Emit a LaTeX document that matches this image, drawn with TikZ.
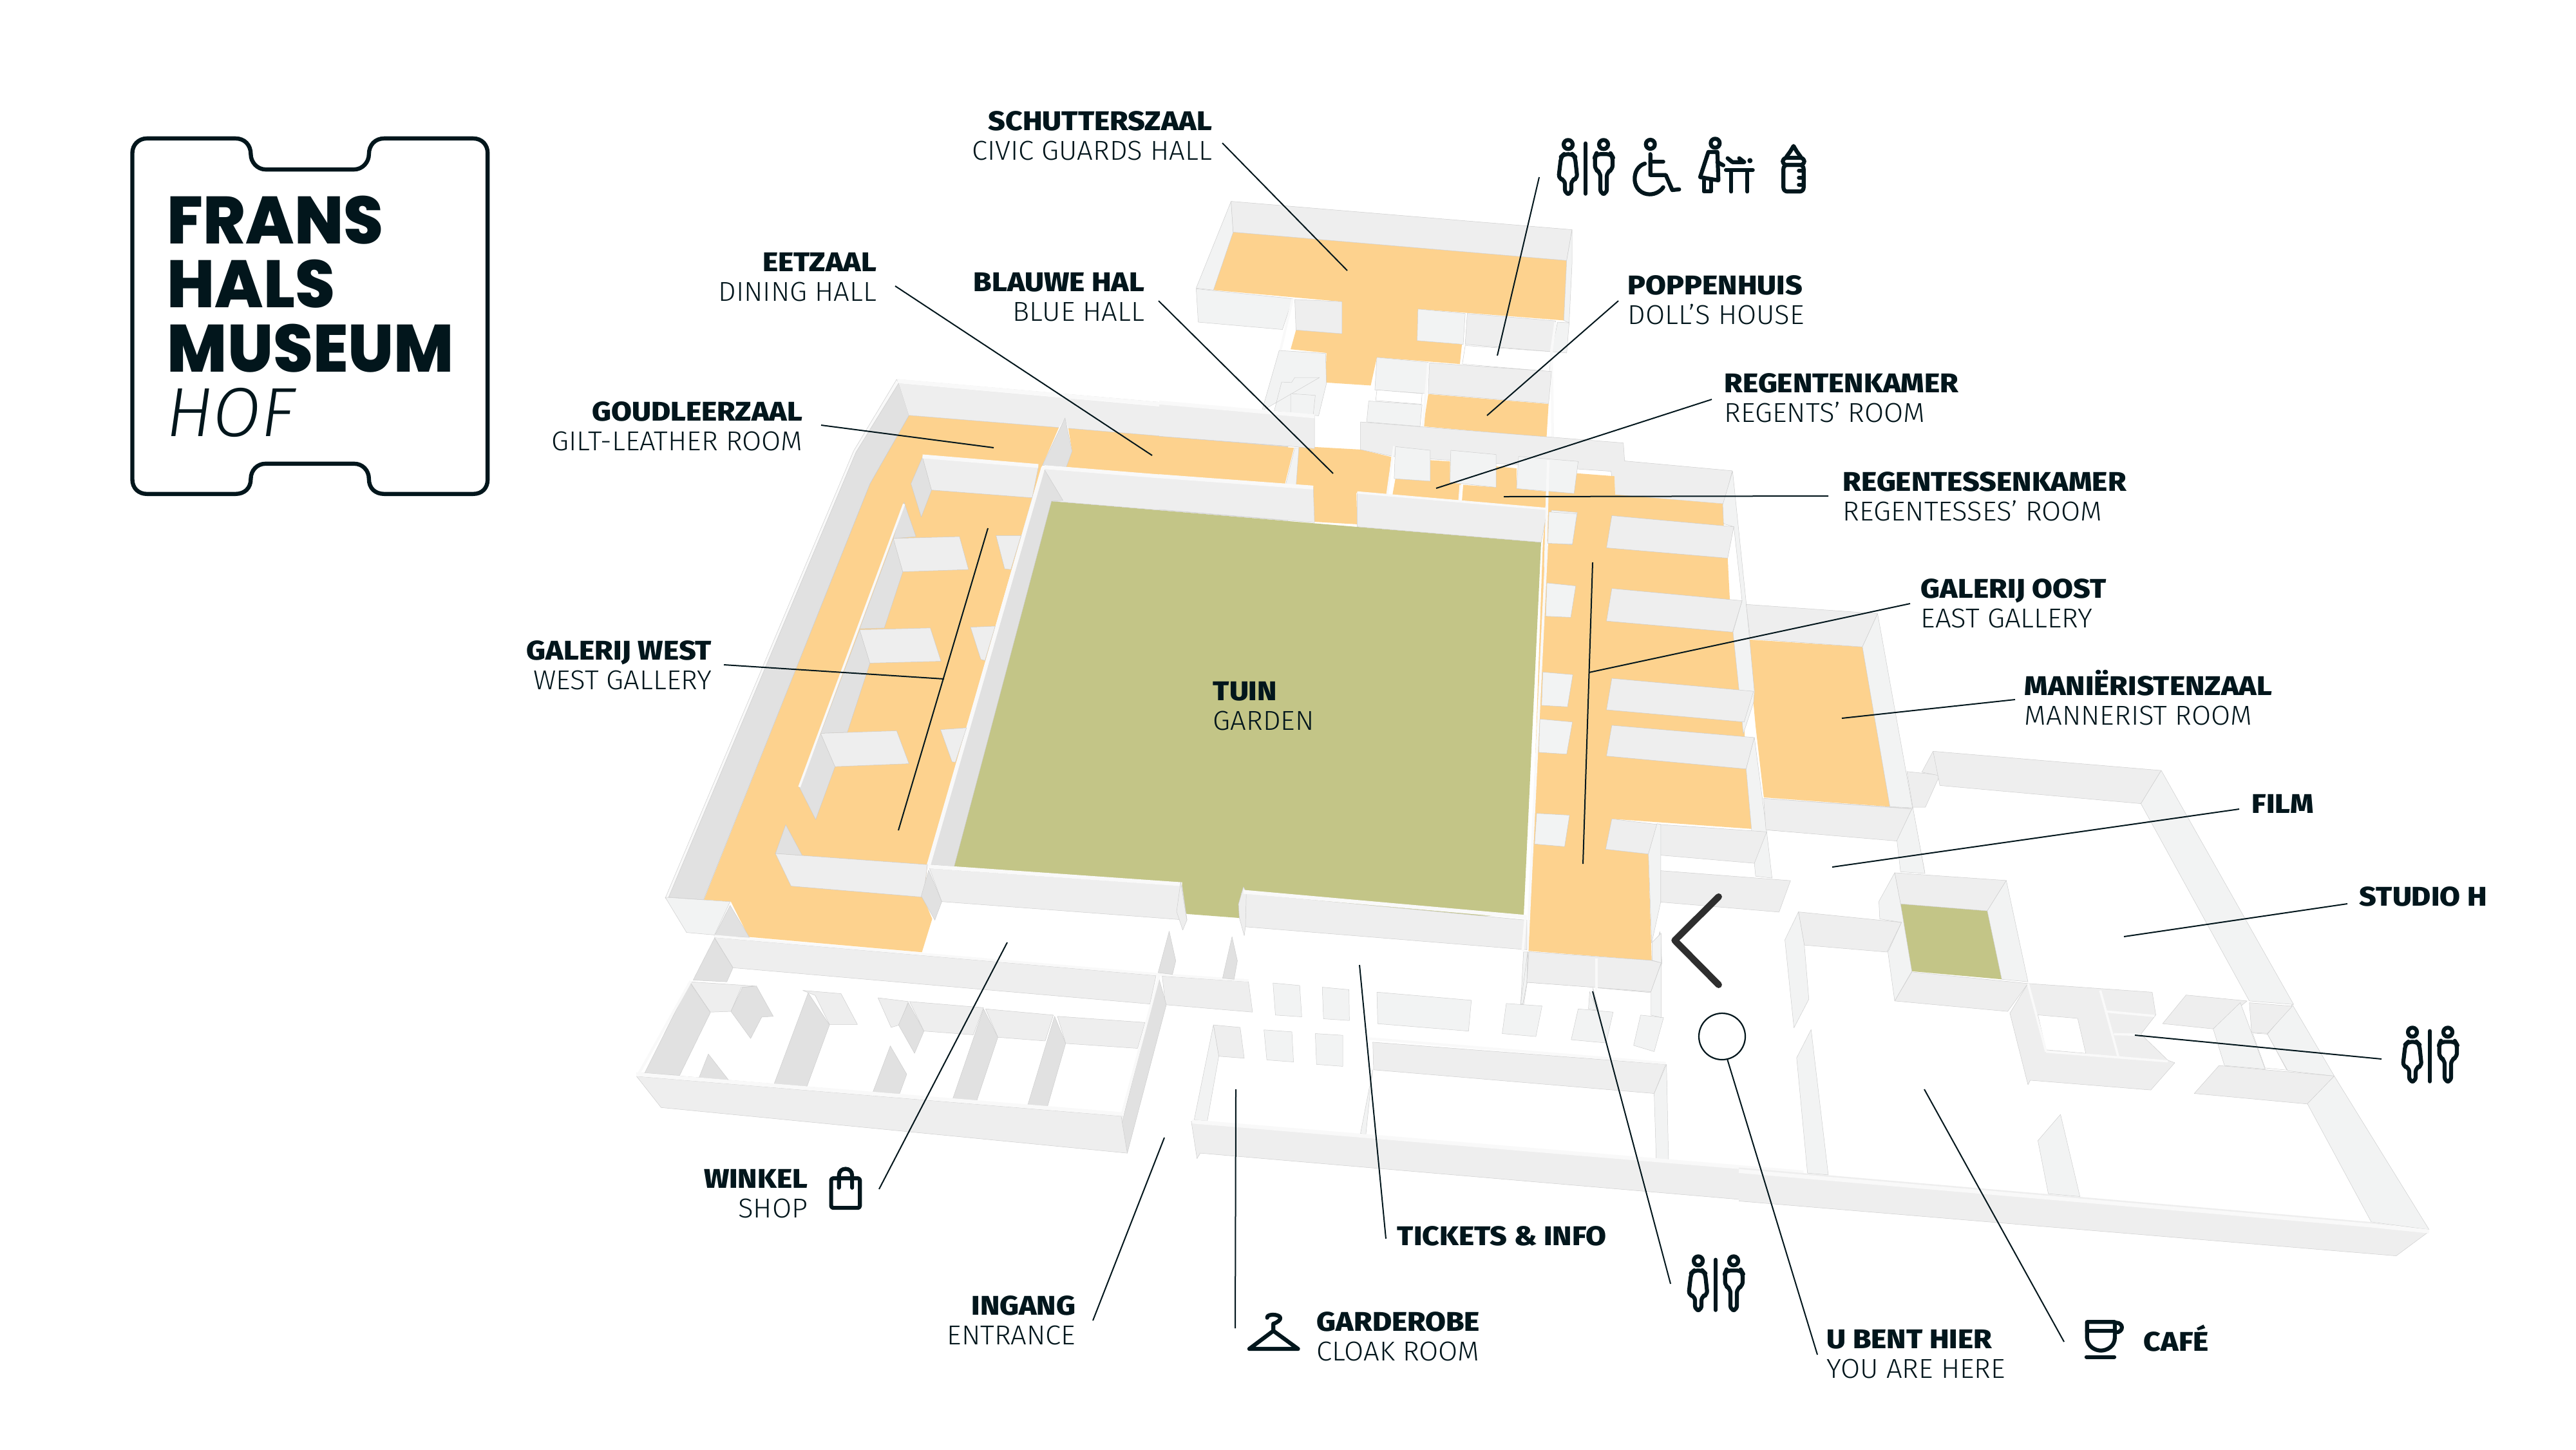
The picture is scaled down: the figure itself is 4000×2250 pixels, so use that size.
\documentclass[tikz,border=0pt]{standalone}
\usepackage{fontspec}
\setmainfont{Fira Sans}
\newfontfamily\lightf{Fira Sans Light}[FakeStretch=1.03]
\newfontfamily\hoff{Fira Sans Light}
\newfontfamily\boldf{Fira Sans ExtraBold}[FakeStretch=1.10]
\newfontfamily\logof{Poppins ExtraBold}[FakeStretch=0.96]
\definecolor{ink}{HTML}{02161C}
\definecolor{orangef}{HTML}{FDD28E}
\definecolor{greenf}{HTML}{C3C587}
\definecolor{wallL}{HTML}{EEEEEE}
\definecolor{wallD}{HTML}{E1E1E1}
\definecolor{wallP}{HTML}{F2F3F3}
\definecolor{wallT}{HTML}{F9F9F9}
\definecolor{edgeg}{HTML}{CCCCCC}
\tikzset{
 x=0.25pt,y=-0.25pt,
 zA/.style={shift={(1000,550)},xscale=.6378,yscale=.5741},
 zB/.style={shift={(1800,280)},xscale=.6378,yscale=.3827},
 zC/.style={shift={(2300,700)},xscale=.6378,yscale=.5741},
 zD/.style={shift={(950,1350)},xscale=.6378,yscale=.3827},
 zE/.style={shift={(1800,1350)},xscale=.6378,yscale=.3827},
 zF/.style={shift={(2700,1150)},xscale=.7015,yscale=.5421},
 zG/.style={shift={(150,170)},xscale=.4337,yscale=.4082},
 zI/.style={shift={(1250,1780)},xscale=.9569,yscale=.3333},
 zJ/.style={shift={(2550,1700)},xscale=.8292,yscale=.3333},
 fo/.style={fill=orangef},
 fg/.style={fill=greenf},
 wn/.style={fill=wallL},
 wl/.style={fill=wallL,draw=edgeg,line width=.12pt,line join=round},
 wd/.style={fill=wallD,draw=edgeg,line width=.12pt,line join=round},
 wp/.style={fill=wallP,draw=edgeg,line width=.12pt,line join=round},
 wt/.style={fill=wallT,draw=edgeg,line width=.12pt,line join=round},
 ww/.style={fill=white,draw=edgeg,line width=.12pt},
 edgeline/.style={draw=edgeg,line width=.12pt},
 strip/.style={draw=wallT,line width=1.5pt},
 leader/.style={draw=ink,line width=.5pt},
 lb/.style={font=\fontsize{10.5}{12}\boldf,text=ink,inner sep=0pt},
 lt/.style={font=\fontsize{10.6}{12}\lightf,text=ink,inner sep=0pt},
 ico/.style={draw=ink,line width=1.55pt,line cap=round,line join=round,fill=none},
}
\newcommand\PG[2]{\path[#1] plot coordinates {#2} -- cycle;}
\newcommand\lblR[5]{\node[lb,anchor=base east] (#1) at (#2,#3) {#4};\node[lt,anchor=base east] (#1-en) at (#2,#3+46) {#5};}
\newcommand\lblL[5]{\node[lb,anchor=base west] (#1) at (#2,#3) {#4};\node[lt,anchor=base west] (#1-en) at (#2,#3+46) {#5};}
\newcommand\lblS[4]{\node[lb,anchor=base west] (#1) at (#2,#3) {#4};}
\newcommand\leader[5]{\coordinate (#1-a) at (#2,#3);\coordinate (#1-b) at (#4,#5);\draw[leader] (#1-a) -- (#1-b);}
\newcommand\wcicon[2]{\begin{scope}[shift={(#1,#2)},scale=.3333]
 \draw[ico] (165,133) circle (21);\draw[ico] (330,133) circle (21);
 \draw[ico,rounded corners=1.6pt] (145,178) -- (185,178) -- (197,190) -- (208,292) -- (180,298) -- (180,362) -- (150,362) -- (150,298) -- (120,292) -- (132,190) -- cycle;
 \draw[ico] (246,128) -- (246,362);
 \draw[ico,rounded corners=1.6pt] (295,178) -- (365,178) -- (372,190) -- (372,250) -- (345,262) -- (345,362) -- (315,362) -- (315,262) -- (290,250) -- (290,190) -- cycle;
\end{scope}}
\begin{document}
\begin{tikzpicture}
\useasboundingbox (0,0) rectangle (4000,2250);
\fill[white] (0,0) rectangle (4000,2250);
% --------- floors
\PG{fg}{(1632,778)(2393,842)(2366,1421)(1924,1425)(1845,1419)(1481,1345)}
\begin{scope}[zA]
\PG{fo}{(645,165)(1010,198)(970,300)(945,388)(690,1380)(680,1480)(146,1475)(550,350)}
\PG{fo}{(1033,200)(1568,250)(1558,355)(1028,305)(1042,262)}
\end{scope}
\begin{scope}[zD]
\PG{fo}{(225,122)(290,130)(333,273)(755,335)(780,200)(755,100)(700,0)(300,0)}
\end{scope}
\begin{scope}[zB]
\PG{fo}{(180,210)(992,325)(985,568)(630,522)(628,650)(737,665)(732,745)(530,718)(515,832)(405,820)(407,700)(320,685)(333,607)(445,622)(445,492)(132,445)}
\PG{fo}{(655,867)(948,907)(943,1042)(643,998)}
\PG{fo}{(0,1040)(328,1085)(305,1238)(0,1195)}
\PG{fo}{(340,1078)(490,1092)(565,1122)(555,1275)(480,1268)(482,1395)(378,1385)(375,1248)(333,1243)}
\end{scope}
\begin{scope}[zC]
\PG{fo}{(232,62)(325,70)(325,118)(588,145)(590,197)(600,290)(605,397)(613,490)(627,640)(640,733)(645,860)(658,1022)(318,995)(303,1077)(407,1090)(415,1378)(115,1352)(150,250)(165,60)}
\PG{fo}{(650,510)(928,530)(995,962)(688,937)(668,745)(660,650)}
\end{scope}
\begin{scope}[zF]
\PG{fg}{(358,467)(550,487)(582,683)(383,660)}
\end{scope}
% --------- walls: west wing
\begin{scope}[zA]
\PG{wt}{(615,68)(510,262)(52,1470)(60,1478)(145,1475)(550,350)(645,165)(620,78)}
\PG{wd}{(620,78)(645,165)(550,350)(145,1475)(60,1468)(516,265)}
\PG{wn}{(620,78)(1568,172)(1568,250)(1033,200)(1025,172)(1010,198)(645,165)}
\draw[edgeline] (645,165) -- (1010,198);
\draw[edgeline] (1033,200) -- (1568,250);
\draw[edgeline] (617,68) -- (1568,160);
\draw[strip] (617,72) -- (1568,165);
\PG{wd}{(1025,172)(1042,262)(1028,305)(970,300)}
\PG{wd}{(678,278)(700,367)(675,440)(650,350)}
\PG{wl}{(678,278)(960,305)(945,388)(700,367)}
\PG{wn}{(975,310)(1568,360)(1568,450)(992,397)}
\draw[edgeline] (992,397) -- (1568,450);
\PG{wd}{(975,312)(1020,395)(992,397)(755,1385)(695,1380)(945,390)}
\draw[strip] (972,305) -- (692,1385);
\draw[strip] (975,305) -- (1568,358);
\draw[strip] (678,276) -- (960,302);
% inner wall and fins
\PG{wd}{(633,400)(662,493)(607,498)}
\PG{wd}{(607,498)(630,588)(585,740)(525,742)}
\PG{wd}{(525,745)(550,835)(495,1022)(430,1025)}
\PG{wd}{(430,1025)(465,1115)(418,1258)(378,1170)}
\PG{wl}{(607,498)(768,493)(790,582)(630,588)}
\PG{wl}{(525,745)(697,740)(723,830)(550,835)}
\PG{wl}{(430,1025)(615,1018)(645,1107)(465,1115)}
\draw[strip,line width=.9pt] (633,405) -- (378,1170);
\PG{wl}{(857,490)(918,490)(893,582)(878,580)}
\PG{wl}{(795,738)(855,735)(830,828)(820,825)}
\PG{wl}{(722,1015)(785,1010)(758,1103)(750,1102)}
\PG{wd}{(345,1272)(385,1355)(320,1350)}
\PG{wl}{(320,1350)(690,1380)(680,1468)(358,1438)}
\PG{wd}{(693,1395)(725,1480)(708,1530)(675,1465)}
\PG{wl}{(695,1390)(1310,1437)(1322,1530)(725,1480)}
\draw[strip] (692,1385) -- (1310,1433);
\end{scope}
% --------- walls: north
\begin{scope}[zB]
\PG{wp}{(175,85)(180,210)(132,445)(90,437)}
\PG{wl}{(175,85)(1005,200)(992,325)(180,210)}
\PG{wp}{(1005,200)(1005,340)(998,578)(985,568)(992,325)}
\PG{wp}{(90,440)(325,480)(300,605)(95,575)}
\PG{wl}{(330,483)(445,492)(445,622)(333,607)}
\draw[strip,line width=.9pt] (325,480) -- (295,690);
\PG{wp}{(630,522)(745,540)(740,665)(628,650)}
\PG{wl}{(750,540)(965,570)(955,695)(745,665)}
\PG{wp}{(970,575)(998,578)(992,700)(955,695)}
\PG{ww}{(745,670)(955,695)(950,775)(738,745)}
\draw[strip,line width=1pt] (965,575) -- (955,690) -- (958,1040);
\PG{wp}{(530,718)(655,738)(650,865)(525,850)}
\PG{wl}{(658,740)(955,775)(948,905)(655,865)}
\PG{ww}{(530,850)(640,865)(638,908)(527,893)}
\PG{wp}{(510,895)(640,910)(635,998)(505,980)}
\draw[strip,line width=.9pt] (655,740) -- (642,1000);
\PG{wp}{(250,935)(292,690)(405,702)(407,825)(388,955)(280,935)(298,818)(322,820)(330,800)(390,800)}
\PG{wp}{(320,865)(380,872)(375,950)(320,945)}
\PG{wn}{(0,905)(378,960)(378,1088)(330,1080)(0,1038)}
\draw[edgeline] (0,898) -- (378,955) -- (378,1088) -- (330,1080) -- (0,1038);
\draw[strip] (0,901) -- (378,957);
\PG{wp}{(330,1085)(340,1085)(333,1243)(307,1240)}
\PG{wn}{(0,1200)(375,1248)(378,1388)(0,1335)}
\draw[edgeline] (375,1248) -- (378,1388) -- (0,1335);
\draw[strip] (0,1200) -- (375,1246);
% east block back wall
\PG{wl}{(490,980)(1130,1065)(1133,1138)(1395,1178)(1375,1312)(1108,1275)(1100,1180)(570,1120)(490,1092)}
\PG{fo}{(568,1275)(575,1210)(660,1220)(660,1135)(708,1140)(708,1225)(735,1232)(730,1298)}
\PG{fo}{(740,1235)(820,1245)(820,1160)(870,1168)(870,1250)(942,1262)(940,1330)(737,1300)}
\PG{fo}{(950,1265)(1010,1270)(1015,1188)(1108,1200)(1110,1275)(1372,1312)(1375,1395)(1100,1358)(1090,1488)(1383,1530)(1385,1568)(950,1568)(950,1470)(1005,1478)(1018,1345)(950,1335)}
\PG{wp}{(575,1080)(660,1095)(660,1220)(572,1210)}
\PG{wp}{(710,1095)(820,1112)(820,1245)(708,1225)}
\PG{wp}{(875,1120)(1020,1140)(1010,1270)(870,1250)}
\draw[strip,line width=.8pt] (572,1078) -- (555,1275);
\PG{wl}{(482,1268)(945,1335)(930,1468)(482,1405)}
\PG{wp}{(955,1338)(1018,1347)(1005,1478)(950,1470)}
\draw[strip,line width=1pt] (947,1135) -- (940,1568);
\draw[strip,line width=.9pt] (482,1266) -- (945,1333);
\draw[strip,line width=.6pt] (733,1235) -- (730,1300);
\end{scope}
% --------- walls: east gallery
\begin{scope}[zC]
\draw[strip,line width=1pt] (160,245) -- (112,1350);
\PG{wp}{(165,165)(233,170)(222,252)(162,250)}
\PG{wp}{(160,357)(230,365)(218,450)(157,447)}
\PG{wp}{(150,598)(223,605)(210,692)(147,688)}
\PG{wp}{(143,725)(222,733)(208,820)(140,815)}
\PG{wp}{(135,980)(215,985)(203,1070)(130,1063)}
\PG{wp}{(612,55)(645,410)(665,650)(663,680)(638,765)(627,640)(613,490)(635,405)(615,205)(590,197)(588,145)}
\PG{wl}{(318,175)(615,205)(600,290)(305,262)}
\PG{wl}{(318,372)(635,405)(612,490)(305,460)}
\PG{wl}{(318,615)(663,650)(640,733)(305,700)}
\PG{wl}{(318,742)(665,775)(645,860)(305,825)}
\PG{wp}{(645,860)(665,775)(695,1030)(708,1155)(668,1150)(665,1115)(658,1022)}
\PG{wl}{(318,995)(428,1010)(407,1090)(303,1077)}
\PG{wl}{(435,1010)(695,1030)(665,1115)(435,1093)}
\PG{wp}{(428,1008)(437,1010)(437,1220)(415,1330)(407,1090)}
\PG{wl}{(437,1135)(753,1162)(725,1247)(437,1220)}
\PG{wp}{(435,1300)(440,1385)(415,1465)(415,1378)}
\PG{wl}{(113,1355)(275,1372)(275,1450)(112,1437)}
\PG{wl}{(285,1372)(437,1385)(415,1465)(283,1452)}
\draw[strip,line width=.8pt] (280,1372) -- (280,1460);
\PG{wp}{(103,1355)(113,1355)(112,1437)(100,1520)(95,1520)}
\PG{wp}{(272,1452)(298,1560)(278,1560)}
% Manierist room
\PG{wl}{(645,415)(965,440)(928,530)(655,508)}
\PG{wp}{(965,440)(1050,965)(995,962)(928,530)}
\PG{wl}{(690,940)(1050,967)(1015,1052)(697,1025)}
\PG{wp}{(1050,965)(1080,1140)(1025,1135)(1015,1052)}
\end{scope}
% --------- walls: shop
\begin{scope}[zD]
\PG{wp}{(130,112)(288,130)(250,265)(182,255)}
\PG{wd}{(288,145)(335,275)(250,270)}
\PG{wl}{(250,275)(1325,430)(1310,545)(295,398)}
\PG{wd}{(250,278)(295,398)(280,455)(198,448)}
\PG{wl}{(1340,432)(1550,455)(1560,578)(1348,548)}
\PG{wd}{(190,458)(240,580)(165,835)(80,825)}
\PG{wl}{(190,455)(348,472)(315,478)(290,575)(240,578)}
\PG{wd}{(318,478)(352,472)(393,595)(365,598)(338,685)(290,575)}
\PG{wd}{(478,500)(530,630)(475,880)(395,870)}
\PG{wl}{(465,490)(558,503)(598,628)(530,628)(495,510)}
\PG{wd}{(235,748)(285,855)(212,845)}
\PG{wl}{(648,520)(722,535)(700,630)(680,640)}
\PG{wd}{(722,540)(760,655)(737,745)(698,630)}
\PG{wl}{(725,535)(905,560)(880,670)(760,655)}
\PG{wd}{(905,565)(940,680)(888,940)(830,930)}
\PG{wl}{(910,565)(1075,590)(1055,695)(940,680)}
\PG{wd}{(1078,595)(1105,705)(1060,965)(1012,958)}
\PG{wl}{(1085,595)(1298,620)(1280,725)(1105,705)}
\PG{wd}{(678,715)(718,830)(700,912)(635,905)}
\PG{wd}{(1330,430)(1350,548)(1255,1150)(1240,1040)(1305,610)}
\PG{wt}{(60,825)(80,825)(1243,990)(1240,1040)(120,890)}
\PG{wl}{(60,838)(1240,1000)(1255,1150)(120,965)}
\draw[strip] (60,830) -- (1243,992);
\draw[strip,line width=1pt] (192,452) -- (65,830);
\draw[strip,line width=1pt] (1332,430) -- (1243,990);
\draw[strip,line width=1pt] (250,270) -- (1332,425) -- (1550,450);
\PG{wl}{(1385,50)(1400,205)(1390,245)(1375,170)}
\PG{wd}{(1357,250)(1373,370)(1365,425)(1330,418)}
\PG{wd}{(1510,272)(1523,370)(1515,445)(1487,440)}
\end{scope}
% --------- walls: entrance
\begin{scope}[zE]
\PG{wl}{(200,95)(895,205)(895,325)(210,232)}
\PG{wl}{(205,70)(212,92)(210,232)(207,268)(195,195)(193,140)}
\draw[strip] (205,90) -- (895,192);
\draw[strip,line width=1pt] (892,190) -- (885,330);
\PG{wp}{(277,460)(342,470)(347,597)(283,590)}
\PG{wp}{(397,477)(462,487)(463,612)(400,605)}
\PG{wp}{(530,497)(760,530)(753,655)(532,625)}
\PG{wp}{(845,543)(932,553)(917,677)(835,665)}
\PG{wp}{(1020,565)(1105,578)(1088,703)(1003,690)}
\PG{wp}{(1172,590)(1228,600)(1205,738)(1155,713)}
\PG{wp}{(255,650)(323,658)(327,780)(262,772)}
\PG{wp}{(380,665)(447,672)(447,798)(383,790)}
\PG{wl}{(132,630)(197,640)(207,765)(145,757)}
\PG{wp}{(132,630)(145,757)(117,1020)(85,1015)}
\PG{wl}{(520,700)(1233,790)(1205,908)(522,812)}
\PG{wp}{(1205,908)(1235,790)(1240,1182)(1210,1175)}
\PG{wp}{(520,812)(515,880)(503,1075)(490,1070)}
\draw[strip,line width=1pt] (508,685) -- (1233,785);
\PG{wn}{(78,1020)(1568,1225)(1568,1360)(100,1150)(92,1172)}
\draw[edgeline] (92,1172) -- (100,1150) -- (1568,1360);
\draw[edgeline] (92,1172) -- (78,1020);
\draw[strip] (80,1022) -- (1568,1228);
\PG{wp}{(885,545)(895,460)(897,335)(880,545)}
\PG{wp}{(1048,495)(1065,570)(1045,565)}
\PG{wp}{(1197,495)(1222,380)(1222,600)(1197,590)}
\PG{wp}{(1222,258)(1222,378)(1200,368)(1200,295)}
\PG{wl}{(900,333)(1197,368)(1222,378)(1197,495)(895,457)}
\draw[strip,line width=1pt] (1065,360) -- (1065,480);
\draw[line width=2.6pt,color=black!82,line cap=round,line join=round] (1362,110) -- (1255,287) -- (1362,467);
\end{scope}
% --------- walls: studio
\begin{scope}[zF]
\PG{wl}{(55,165)(383,195)(350,287)(60,255)}
\PG{wp}{(385,190)(412,380)(358,375)(350,285)}
\PG{wl}{(372,88)(445,98)(413,190)(385,190)}
\PG{wl}{(430,30)(445,100)(405,90)}
\PG{wl}{(430,30)(935,85)(890,180)(445,128)}
\PG{wp}{(935,85)(1228,755)(1130,745)(890,180)}
\PG{wp}{(1225,755)(1318,960)(1215,945)(1170,840)}
\PG{wp}{(1318,960)(1528,1400)(1400,1378)(1258,1038)}
\PG{wn}{(0,1222)(1400,1378)(1528,1405)(1455,1475)(0,1318)}
\draw[edgeline] (1528,1405) -- (1455,1475) -- (0,1318);
\draw[strip] (0,1232) -- (1400,1388) -- (1528,1405);
\PG{wl}{(345,378)(592,400)(550,487)(358,467)}
\PG{wp}{(592,400)(640,690)(582,683)(550,487)}
\PG{wl}{(383,662)(640,695)(595,775)(345,745)}
\PG{wp}{(345,378)(358,467)(383,660)(345,745)(330,605)(360,520)(312,510)(310,460)}
\PG{wl}{(132,490)(360,520)(328,605)(145,585)}
\PG{wp}{(132,490)(145,585)(155,740)(122,822)(102,570)}
\PG{wp}{(160,827)(198,1243)(152,1238)(128,908)}
\PG{wp}{(712,1070)(755,1305)(685,1297)(662,1145)}
\PG{wl}{(640,695)(915,720)(923,785)(890,840)(950,915)(965,922)(912,1000)(645,972)(640,985)(600,780)}
\PG{ww}{(662,785)(750,795)(768,895)(680,885)}
\PG{wl}{(990,728)(1125,745)(1050,825)(938,810)}
\PG{wl}{(1130,750)(1225,760)(1170,838)(1135,835)}
\PG{wp}{(1110,750)(1165,940)(1075,930)(1050,825)}
\PG{ww}{(1137,837)(1170,840)(1213,943)(1165,937)}
\PG{wl}{(1063,930)(1318,960)(1258,1040)(1008,1010)}
\draw[strip,line width=.9pt] (800,715) -- (840,905);
\draw[strip,line width=.9pt] (812,775) -- (920,788);
\draw[strip,line width=.9pt] (830,840) -- (890,842);
\draw[strip,line width=.9pt] (640,695) -- (680,890);
\draw[strip,line width=.9pt] (680,890) -- (950,918);
\end{scope}
% --------- logo
\begin{scope}[zG]
\draw[draw=ink,line width=1.6pt] (180,110) -- (497,110) .. controls (530,110) and (552,135) .. (552,170) .. controls (552,200) and (575,228) .. (605,228) -- (922,228) .. controls (952,228) and (975,200) .. (975,170) .. controls (975,135) and (997,110) .. (1030,110) -- (1348,110) .. controls (1380,110) and (1400,135) .. (1400,165) -- (1400,1407) .. controls (1400,1440) and (1380,1462) .. (1348,1462) -- (1030,1462) .. controls (997,1462) and (975,1440) .. (975,1405) .. controls (975,1372) and (952,1347) .. (922,1347) -- (605,1347) .. controls (575,1347) and (552,1372) .. (552,1405) .. controls (552,1440) and (530,1462) .. (497,1462) -- (180,1462) .. controls (150,1462) and (128,1440) .. (128,1407) -- (128,165) .. controls (128,135) and (150,110) .. (180,110) -- cycle;
\end{scope}
\tikzset{logot/.style={font=\fontsize{26}{28}\logof,text=ink,inner sep=0pt,anchor=base west}}
\node[logot] (lg1) at (259,378) {FRANS};
\node[logot] (lg2) at (259,477) {HALS};
\node[logot] (lg3) at (259,577) {MUSEUM};
\node[font=\fontsize{27}{28}\hoff\itshape,text=ink,inner sep=0pt,anchor=base west] (lg4) at (258,677) {HOF};
% --------- leaders
\leader{l1}{1898}{222}{2092}{420}
\leader{l2}{1390}{444}{1789}{707}
\leader{l3}{1799}{467}{2070}{735}
\leader{l4}{1275}{660}{1543}{695}
\leader{l5}{1124}{1032}{1466}{1054}
\leader{l5v}{1534}{820}{1395}{1289}
\leader{l6}{2390}{275}{2325}{552}
\leader{l7}{2513}{467}{2309}{645}
\leader{l8}{2658}{620}{2230}{758}
\leader{l9}{2335}{771}{2839}{770}
\leader{l10}{2966}{937}{2467}{1044}
\leader{l10v}{2473}{873}{2458}{1341}
\leader{l11}{3129}{1086}{2860}{1115}
\leader{l12}{3477}{1256}{2845}{1346}
\leader{l13}{3645}{1403}{3298}{1454}
\leader{l14}{3698}{1644}{3315}{1607}
\leader{l15}{2988}{1691}{3205}{2083}
\leader{l17}{2473}{1539}{2594}{1993}
\leader{l18}{2111}{1498}{2152}{1923}
\leader{l19}{1919}{1691}{1918}{2062}
\leader{l20}{1808}{1766}{1697}{2050}
\leader{l21}{1564}{1463}{1365}{1846}
\node[circle,draw=ink,line width=.55pt,fill=white,minimum size=18pt,inner sep=0pt] (here) at (2674,1609) {};
\coordinate (l16-b) at (2822,2103);
\draw[leader] (here.283) -- (l16-b);
% --------- labels
\lblR{schut}{1883}{202}{SCHUTTERSZAAL}{CIVIC GUARDS HALL}
\lblR{eet}{1362}{421}{EETZAAL}{DINING HALL}
\lblR{blauw}{1778}{452}{BLAUWE HAL}{BLUE HALL}
\lblR{goud}{1247}{653}{GOUDLEERZAAL}{GILT-LEATHER ROOM}
\lblR{gwest}{1106}{1024}{GALERIJ WEST}{WEST GALLERY}
\lblR{wink}{1255}{1844}{WINKEL}{SHOP}
\lblR{ing}{1671}{2041}{INGANG}{ENTRANCE}
\lblL{pop}{2527}{457}{POPPENHUIS}{DOLL’S HOUSE}
\lblL{reg}{2677}{609}{REGENTENKAMER}{REGENTS’ ROOM}
\lblL{regs}{2861}{762}{REGENTESSENKAMER}{REGENTESSES’ ROOM}
\lblL{goost}{2982}{928}{GALERIJ OOST}{EAST GALLERY}
\lblL{man}{3143}{1079}{MANIËRISTENZAAL}{MANNERIST ROOM}
\lblL{tuin}{1883}{1087}{TUIN}{GARDEN}
\lblS{film}{3496}{1262}{FILM}
\lblS{studio}{3663}{1406}{STUDIO H}
\lblS{tick}{2169}{1933}{TICKETS \& INFO}
\lblL{gard}{2044}{2066}{GARDEROBE}{CLOAK ROOM}
\lblL{ubent}{2836}{2093}{U BENT HIER}{YOU ARE HERE}
\lblS{cafe}{3328}{2097}{CAFÉ}
% --------- icons
\wcicon{2380}{180}
\wcicon{3691}{1558}
\wcicon{2582}{1913}
\begin{scope}[shift={(2380,180)},scale=.3333]
% wheelchair
\draw[ico] (548,132) circle (21);
\draw[ico] (548,178) -- (548,275) -- (620,275) -- (650,345) -- (682,342);
\draw[ico] (548,213) -- (608,213);
\draw[ico] (522,222) .. controls (490,232) and (475,262) .. (475,293) .. controls (475,340) and (510,365) .. (545,365) .. controls (570,365) and (595,352) .. (608,332);
% parent and baby changing
\draw[ico] (850,127) circle (21);
\draw[ico] (818,168) -- (860,168) -- (865,300) -- (780,285) -- cycle;
\draw[ico] (860,215) -- (888,230);
\draw[ico] (797,300) -- (797,352) -- (830,352) -- (830,300);
\draw[ico] (900,252) -- (1025,252);
\draw[ico] (925,252) -- (925,352);
\draw[ico] (1000,252) -- (1000,352);
\draw[ico] (908,197) -- (930,215) -- (985,215) -- (962,197);
\fill[ink] (1012,208) circle (12);
% bottle
\draw[ico,rounded corners=1.5pt] (1168,228) -- (1262,228) -- (1262,352) -- (1168,352) -- cycle;
\draw[ico,rounded corners=1.5pt] (1165,195) -- (1265,195) -- (1265,228) -- (1165,228) -- cycle;
\draw[ico] (1182,190) -- (1200,165) -- (1215,140) -- (1230,165) -- (1248,190);
\draw[ico] (1240,255) -- (1262,255);
\draw[ico] (1240,288) -- (1262,288);
\draw[ico] (1240,320) -- (1262,320);
\end{scope}
% bag
\begin{scope}[zD]
\draw[ico,rounded corners=.8pt] (534,1252) -- (604,1252) -- (604,1372) -- (534,1372) -- cycle;
\draw[ico] (553,1290) -- (553,1240) .. controls (553,1205) and (585,1205) .. (585,1240) -- (585,1290);
\end{scope}
% hanger
\begin{scope}[zI]
\draw[ico] (721,942) -- (800,942) -- (760,858) -- cycle;
\draw[ico] (760,858) -- (760,825) .. controls (775,810) and (775,785) .. (760,783) .. controls (752,783) and (750,790) .. (750,797);
\end{scope}
% cup
\begin{scope}[zJ]
\draw[ico] (833,1057) -- (885,1057) -- (885,1130) .. controls (885,1170) and (870,1190) .. (859,1190) .. controls (848,1190) and (833,1170) .. (833,1130) -- cycle;
\draw[ico] (833,1098) -- (885,1098);
\draw[ico] (887,1060) .. controls (902,1060) and (902,1105) .. (887,1105);
\draw[ico] (832,1220) -- (884,1220);
\end{scope}
\end{tikzpicture}
\end{document}
